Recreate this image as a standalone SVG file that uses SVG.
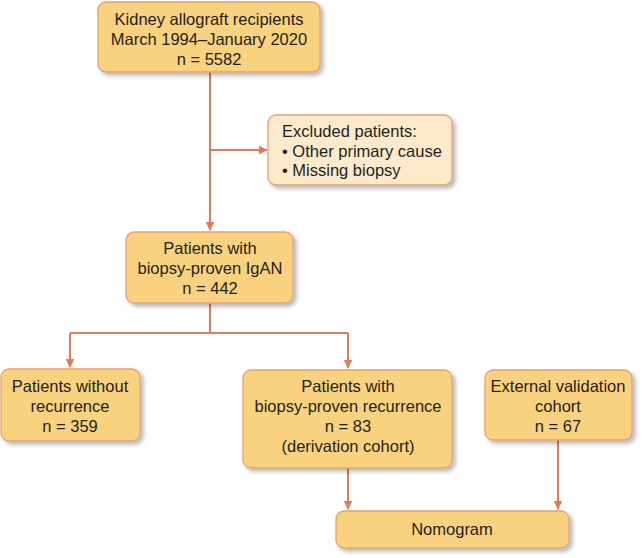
<svg xmlns="http://www.w3.org/2000/svg" width="642" height="558" viewBox="0 0 642 558">
<style>
.box{fill:#F9D27F;stroke:#E5A173;stroke-width:1.3;filter:url(#sh)}
.light{fill:#FDEACB}
.t{font-family:"Liberation Sans",Arial,sans-serif;font-size:16.5px;fill:#231F20;text-anchor:middle}
.l{text-anchor:start}
.c{stroke:#E07C58;stroke-width:2;fill:none}
</style>
<defs>
<filter id="sh" x="-10%" y="-10%" width="130%" height="140%">
<feDropShadow dx="3" dy="3" stdDeviation="2" flood-color="#000" flood-opacity="0.28"/>
</filter>
<marker id="ar" markerWidth="10" markerHeight="10" refX="8" refY="5" orient="auto" markerUnits="userSpaceOnUse">
<path d="M0,0.8 L9,5 L0,9.2 Z" fill="#E07C58"/>
</marker>
</defs>
<g id="connectors">
<path class="c" d="M210,72 V230" marker-end="url(#ar)"/>
<path class="c" d="M210,150 H267" marker-end="url(#ar)"/>
<path class="c" d="M210,303 V333"/>
<path class="c" d="M70,333 H348"/>
<path class="c" d="M70,333 V367" marker-end="url(#ar)"/>
<path class="c" d="M348,333 V368" marker-end="url(#ar)"/>
<path class="c" d="M348,468 V509" marker-end="url(#ar)"/>
<path class="c" d="M558,440 V509" marker-end="url(#ar)"/>
</g>
<g id="recipients">
<rect class="box" x="98" y="2" width="222" height="70" rx="8"/>
<text class="t" x="209" y="25">Kidney allograft recipients</text>
<text class="t" x="209" y="45">March 1994–January 2020</text>
<text class="t" x="209" y="65">n = 5582</text>
</g>
<g id="excluded">
<rect class="box light" x="268" y="115" width="184" height="70" rx="8"/>
<text class="t l" x="282" y="137">Excluded patients:</text>
<text class="t l" x="282" y="157">• Other primary cause</text>
<text class="t l" x="282" y="176">• Missing biopsy</text>
</g>
<g id="igan">
<rect class="box" x="126" y="232" width="167" height="71" rx="8"/>
<text class="t" x="210" y="254">Patients with</text>
<text class="t" x="210" y="274">biopsy-proven IgAN</text>
<text class="t" x="210" y="294">n = 442</text>
</g>
<g id="norecurrence">
<rect class="box" x="1" y="369" width="139" height="72" rx="8"/>
<text class="t" x="70" y="392">Patients without</text>
<text class="t" x="70" y="412">recurrence</text>
<text class="t" x="70" y="432">n = 359</text>
</g>
<g id="recurrence">
<rect class="box" x="243" y="370" width="209" height="98" rx="8"/>
<text class="t" x="348" y="392">Patients with</text>
<text class="t" x="348" y="412">biopsy-proven recurrence</text>
<text class="t" x="348" y="432">n = 83</text>
<text class="t" x="348" y="452">(derivation cohort)</text>
</g>
<g id="external">
<rect class="box" x="485" y="370" width="147" height="70" rx="8"/>
<text class="t" x="558" y="392">External validation</text>
<text class="t" x="558" y="412">cohort</text>
<text class="t" x="558" y="432">n = 67</text>
</g>
<g id="nomogram">
<rect class="box" x="336" y="511" width="233" height="37" rx="8"/>
<text class="t" x="452" y="535">Nomogram</text>
</g>
</svg>
